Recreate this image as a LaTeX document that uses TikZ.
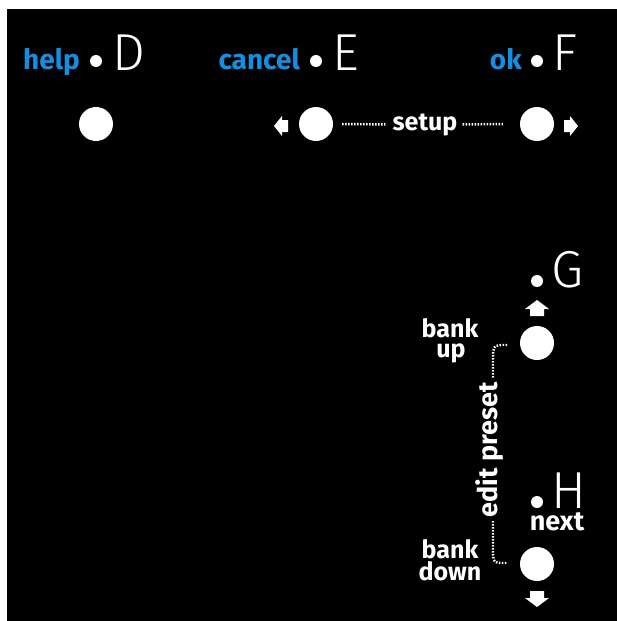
\documentclass[tikz,border=0pt]{standalone}
\usepackage{fontspec}
\setmainfont{Fira Sans}
\newfontfamily\thinfont{Fira Sans Light}
\definecolor{lblblue}{RGB}{20,142,226}
\begin{document}
\begin{tikzpicture}[x=1pt,y=-1pt,
  btn/.style={circle,fill=white,inner sep=0,minimum size=34pt},
  pin/.style={circle,fill=white,inner sep=0,minimum size=12pt},
  letter/.style={text=white,font=\thinfont\fontsize{52}{52}\selectfont,inner sep=0,anchor=base west,text depth=0pt},
  bluelbl/.style={text=lblblue,font=\bfseries\fontsize{28}{28}\selectfont,inner sep=0,anchor=base east},
  whitelbl/.style={text=white,font=\bfseries\fontsize{25}{25}\selectfont,inner sep=0,anchor=base},
  biglbl/.style={whitelbl,font=\bfseries\fontsize{27}{27}\selectfont},
  dotline/.style={white,line width=2.4pt,dash pattern=on 1.5pt off 1.5pt},
  arrowhead/.style={fill=white}
]
\useasboundingbox (0,0) rectangle (617,621);
\fill[white] (0,0) rectangle (617,621);
\fill[black] (7,9) rectangle (617,621);

% top row labels
\node[bluelbl] (help) at (80,69) {help};
\node[pin] (dD) at (96,61) {};
\node[letter] (D) at (112,70) {D};
\node[bluelbl] (cancel) at (300,69) {cancel};
\node[pin] (dE) at (316,61) {};
\node[letter] (E) at (332,70) {E};
\node[bluelbl] (ok) at (522,69) {ok};
\node[pin] (dF) at (537,61) {};
\node[letter] (F) at (552,70) {F};

% buttons
\node[btn] (bD) at (96,124) {};
\node[btn] (bE) at (316,124) {};
\node[btn] (bF) at (537,124) {};
\node[btn] (bG) at (537,343) {};
\node[btn] (bH) at (537,564) {};

% setup
\node[whitelbl] (setup) at (425,130) {setup};
\draw[dotline,shorten <=9pt,shorten >=7pt] (bE.east) -- (setup.west);
\draw[dotline,shorten <=5pt,shorten >=17pt] (setup.east) -- (bF.west);

% side arrows
\fill[arrowhead] (274,126) -- (282,116) -- (282,120) -- (288,120) -- (288,132) -- (282,132) -- (282,136) -- cycle;
\fill[arrowhead] (578,126) -- (570,116) -- (570,120) -- (564,120) -- (564,132) -- (570,132) -- (570,136) -- cycle;
\fill[arrowhead] (537,300) -- (525,309) -- (530,309) -- (530,316) -- (544,316) -- (544,309) -- (549,309) -- cycle;
\fill[arrowhead] (537,607) -- (525,598) -- (530,598) -- (530,591) -- (544,591) -- (544,598) -- (549,598) -- cycle;

% G and H
\node[pin] (dG) at (537,281) {};
\node[letter] (G) at (551,287) {G};
\node[pin] (dH) at (537,502) {};
\node[letter] (H) at (551,508) {H};
\node[biglbl,text height=14pt] (next) at (557,530) {next};

% bank labels
\node[whitelbl,text depth=0pt] (bank1) at (450,337) {bank};
\node[whitelbl,text height=12pt] (up) at (451,357) {up};
\node[whitelbl,text depth=0pt] (bank2) at (450,558) {bank};
\node[whitelbl,text height=12pt] (down) at (450,580) {down};

% edit preset
\node[biglbl,rotate=90,anchor=base] (edit) at (497,450) {edit preset};
\coordinate (c1) at (507,345);
\coordinate (c2) at (507,563);
\draw[dotline] (c1) .. controls (493,345) .. (493,362) -- (493,379);
\draw[dotline] (493,521) -- (493,548) .. controls (493,563) .. (c2);
\end{tikzpicture}
\end{document}
